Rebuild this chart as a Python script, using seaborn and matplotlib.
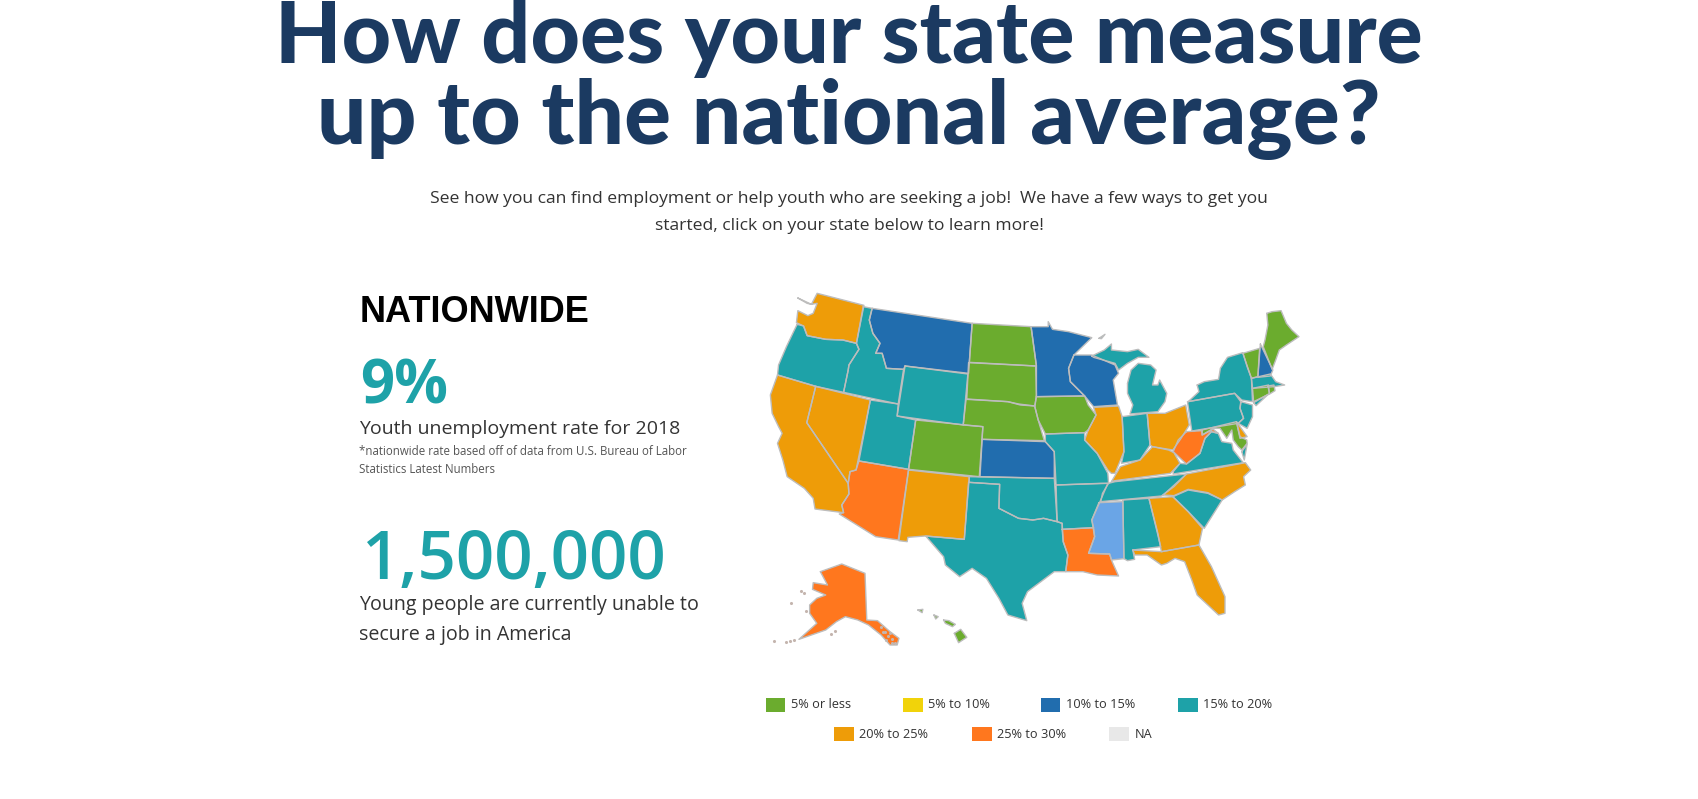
import matplotlib
matplotlib.use("Agg")
import matplotlib.pyplot as plt
import pandas as pd
import seaborn as sns

# bins, as in the legend
bin_labels = ["5% or less", "5% to 10%", "10% to 15%", "15% to 20%",
              "20% to 25%", "25% to 30%", "NA"]
bin_colors = ["#6BAC2E", "#F1D30A", "#216DAE", "#1EA2A8",
              "#EE9C08", "#FF771E", "#E8E8E8"]
ms_color = "#6AA5E6"

# state outlines, in map units
WA = [(162,84),(188,100),(200,103),(216,70),(347,106),(326,220),(288,210),(240,208),(188,197),(178,168),(158,158),(162,122),(190,137),(205,130),(216,100),(200,103)]
OR = [(160,163),(178,168),(188,197),(240,208),(288,210),(326,220),(333,238),(305,285),(303,300),(290,367),(212,349),(105,315),(108,285),(130,230),(150,185)]
CA = [(105,315),(212,349),(187,458),(303,640),(305,672),(285,705),(290,728),(210,717),(205,685),(180,655),(132,620),(120,570),(105,520),(118,490),(108,470),(90,430),(85,375)]
NV = [(212,349),(365,390),(325,600),(308,605),(303,640),(187,458)]
ID = [(345,110),(370,115),(362,150),(372,190),(392,220),(380,250),(398,250),(410,295),(458,298),(443,402),(290,367),(303,300),(305,285),(333,238),(326,220)]
MT = [(370,115),(650,160),(640,310),(462,288),(458,298),(410,295),(398,250),(380,250),(392,220),(372,190),(362,150)]
WY = [(462,288),(638,312),(625,465),(440,438)]
UT = [(365,390),(443,402),(440,438),(492,450),(472,598),(333,573)]
AZ = [(333,573),(472,598),(443,810),(380,800),(278,732),(290,728),(285,705),(305,672),(303,640),(308,605),(325,600)]
CO = [(492,450),(680,470),(670,620),(472,598)]
NM = [(472,600),(642,620),(628,808),(518,798),(470,802),(468,815),(445,812)]
ND = [(650,160),(815,170),(830,288),(642,277)]
SD = [(640,278),(828,288),(830,375),(826,408),(780,402),(750,395),(635,387)]
NE = [(633,388),(750,395),(785,405),(825,408),(835,450),(852,512),(678,508),(680,470),(625,465)]
KS = [(678,508),(855,515),(880,545),(880,625),(672,620)]
OK = [(642,620),(880,625),(888,755),(850,745),(820,750),(780,745),(725,715),(727,643),(642,637)]
TX = [(640,637),(727,643),(725,715),(780,745),(820,750),(850,745),(888,755),(902,760),(905,815),(918,855),(912,905),(880,905),(805,965),(790,1000),(803,1052),(750,1035),(725,985),(690,925),(650,895),(615,920),(575,885),(570,860),(520,798),(628,808)]
MN = [(815,170),(863,170),(863,155),(875,178),(920,185),(985,203),(935,255),(920,295),(925,335),(965,378),(830,380),(830,288)]
IA = [(830,380),(965,378),(975,405),(997,435),(975,480),(965,488),(855,492),(835,450),(825,408)]
MO = [(855,492),(965,488),(965,510),(1000,550),(1030,610),(1032,640),(1010,640),(885,645),(880,545),(855,515)]
AR = [(885,645),(1030,640),(1010,690),(985,750),(990,773),(902,778),(902,760),(888,755)]
LA = [(902,778),(990,773),(993,800),(976,850),(1035,852),(1042,875),(1060,918),(1000,915),(960,905),(912,905),(918,855),(905,815)]
MS = [(1005,698),(1072,695),(1075,866),(1040,870),(1035,852),(976,850),(993,800),(985,750)]
AL = [(1072,690),(1145,685),(1178,830),(1100,840),(1105,868),(1085,872),(1075,866)]
TN = [(1032,640),(1050,635),(1250,612),(1215,650),(1180,678),(1010,695),(1015,670)]
KY = [(1040,635),(1065,590),(1120,570),(1155,530),(1200,540),(1215,548),(1232,580),(1205,610),(1050,632)]
IL = [(975,480),(997,435),(990,412),(1060,408),(1070,440),(1075,545),(1050,610),(1040,610),(1030,600),(1000,550),(965,510)]
IN = [(1070,440),(1140,430),(1148,525),(1120,570),(1068,580),(1075,545)]
OH = [(1140,430),(1190,430),(1248,405),(1258,465),(1235,505),(1212,540),(1155,530),(1148,525)]
MI_LOWER = [(1085,340),(1095,300),(1115,280),(1150,285),(1165,300),(1155,345),(1170,345),(1175,330),(1195,370),(1190,395),(1170,425),(1092,432),(1100,405),(1085,370)]
MI_UPPER = [(985,258),(1020,240),(1040,222),(1040,240),(1085,245),(1115,238),(1145,262),(1115,262),(1085,280),(1060,300),(1050,280),(990,262)]
ISLE_ROYALE = [(1005,205),(1022,193),(1012,206)]
WI = [(935,255),(985,255),(1050,285),(1060,310),(1045,330),(1057,405),(990,410),(965,378),(925,335),(920,295)]
PA = [(1253,395),(1385,370),(1402,395),(1400,415),(1410,445),(1395,460),(1265,483)]
NY = [(1280,345),(1300,335),(1340,328),(1345,295),(1365,262),(1408,248),(1420,290),(1432,325),(1435,395),(1405,390),(1385,370),(1255,395),(1285,365)]
LONG_ISLAND = [(1438,398),(1480,372),(1445,407)]
NJ = [(1403,395),(1435,405),(1435,440),(1420,475),(1395,460),(1410,445),(1400,415)]
VT = [(1408,250),(1455,235),(1450,320),(1432,325)]
NH = [(1457,222),(1492,300),(1485,318),(1450,322)]
ME = [(1475,130),(1490,125),(1515,122),(1530,160),(1545,180),(1565,200),(1530,225),(1510,240),(1500,270),(1490,298),(1465,230),(1470,210),(1478,165)]
MA = [(1432,325),(1485,312),(1500,335),(1525,345),(1495,350),(1435,355)]
CT = [(1435,355),(1480,345),(1482,372),(1438,395)]
RI = [(1478,348),(1495,345),(1498,362),(1483,372)]
DE = [(1390,455),(1420,500),(1400,505)]
MD = [(1294,480),(1390,455),(1400,500),(1419,510),(1420,520),(1405,540),(1395,530),(1381,510),(1377,480),(1363,505),(1344,475),(1325,475),(1294,495)]
WV = [(1250,485),(1293,482),(1294,495),(1325,478),(1339,490),(1320,485),(1302,505),(1288,550),(1250,582),(1213,545),(1227,510)]
VA = [(1213,605),(1232,580),(1250,582),(1288,550),(1302,505),(1320,485),(1339,490),(1349,515),(1377,520),(1381,540),(1409,578),(1213,612)]
VA_SHORE = [(1405,545),(1420,522),(1412,570)]
NC = [(1185,675),(1250,612),(1415,578),(1430,600),(1410,620),(1415,645),(1385,665),(1350,690),(1310,668),(1255,658),(1215,677)]
SC = [(1212,680),(1255,660),(1310,670),(1350,690),(1300,775),(1255,725)]
GA = [(1145,685),(1212,680),(1255,725),(1295,775),(1285,825),(1180,845),(1170,790)]
FL = [(1100,840),(1180,845),(1285,825),(1320,890),(1358,980),(1358,1030),(1340,1035),(1280,975),(1265,930),(1245,875),(1218,865),(1195,880),(1180,885),(1140,855),(1105,855)]
AK = [(225,905),(285,882),(350,910),(355,1050),(385,1052),(420,1085),(445,1105),(440,1125),(420,1125),(395,1095),(360,1065),(330,1050),(295,1040),(270,1055),(240,1080),(165,1108),(215,1060),(195,1030),(195,1005),(215,985),(240,975),(203,958),(205,938),(245,945)]
HI_BIG = [(600,1090),(618,1078),(635,1102),(612,1118)]
HI_MAUI = [(570,1050),(585,1052),(603,1063),(595,1070),(575,1060)]
HI_OAHU = [(543,1035),(555,1040),(548,1047)]
HI_KAUAI = [(498,1020),(512,1018),(510,1028)]

state_shapes = {
    "WA": WA, "OR": OR, "CA": CA, "NV": NV, "ID": ID, "MT": MT, "WY": WY, "UT": UT,
    "AZ": AZ, "CO": CO, "NM": NM, "ND": ND, "SD": SD, "NE": NE, "KS": KS, "OK": OK,
    "TX": TX, "MN": MN, "IA": IA, "MO": MO, "AR": AR, "LA": LA, "MS": MS, "AL": AL,
    "TN": TN, "KY": KY, "IL": IL, "IN": IN, "OH": OH, "MI_LOWER": MI_LOWER,
    "MI_UPPER": MI_UPPER, "ISLE_ROYALE": ISLE_ROYALE, "WI": WI, "PA": PA, "NY": NY,
    "LONG_ISLAND": LONG_ISLAND, "NJ": NJ, "VT": VT, "NH": NH, "ME": ME, "MA": MA,
    "CT": CT, "RI": RI, "VA": VA, "VA_SHORE": VA_SHORE, "MD": MD, "DE": DE, "WV": WV,
    "NC": NC, "SC": SC, "GA": GA, "FL": FL, "AK": AK, "HI_BIG": HI_BIG,
    "HI_MAUI": HI_MAUI, "HI_OAHU": HI_OAHU, "HI_KAUAI": HI_KAUAI,
}

green_states = ["CO", "ND", "SD", "NE", "IA", "VT", "ME", "CT", "RI", "MD",
                "HI_BIG", "HI_MAUI", "HI_OAHU", "HI_KAUAI"]
blue_states = ["MT", "KS", "MN", "WI", "NH"]
orange_states = ["WA", "CA", "NV", "NM", "IL", "OH", "KY", "NC", "GA", "FL", "DE"]
dark_orange_states = ["AZ", "LA", "WV", "AK"]
light_blue_states = ["MS"]

# small Alaskan islands, mostly border colour at this size
island_x = [95, 130, 140, 150, 172, 180, 185, 143, 255, 265, 395, 405, 415, 425, 435, 410, 425, 420, 400]
island_y = [1113, 1115, 1112, 1110, 962, 970, 1022, 998, 1092, 1082, 1070, 1085, 1098, 1108, 1118, 1110, 1120, 1090, 1085]


def state_color(name):
    if name in green_states:
        return bin_colors[0]
    if name in blue_states:
        return bin_colors[2]
    if name in orange_states:
        return bin_colors[4]
    if name in dark_orange_states:
        return bin_colors[5]
    if name in light_blue_states:
        return ms_color
    return bin_colors[3]


sns.set_theme(style="white")
body_font = ["Open Sans", "DejaVu Sans"]

fig = plt.figure(figsize=(16.98, 7.99), dpi=100, facecolor="w")

# page axes, in pixels
page = fig.add_axes([0, 0, 1, 1])
page.set_xlim(0, 1698)
page.set_ylim(799, 0)
page.axis("off")

title_color = "#1B3A61"
teal = "#1EA2A8"
page.text(849, 63, "How does your state measure", ha="center", va="baseline", fontsize=61.9,
          color=title_color, family="Lato", weight="black")
page.text(849, 144, "up to the national average?", ha="center", va="baseline", fontsize=63,
          color=title_color, family="Lato", weight="black")

for line, y in zip(["See how you can find employment or help youth who are seeking a job!  We have a few ways to get you",
                    "started, click on your state below to learn more!"], [203, 230]):
    page.text(849, y, line, ha="center", va="baseline", fontsize=12.6, color="#333333", family=body_font)

page.text(360, 322, "NATIONWIDE", fontsize=26, color="black", family="Liberation Sans", weight="bold", va="baseline")
page.text(360, 403, "9%", fontsize=43, color=teal, family=body_font, weight="bold", va="baseline")
page.text(359, 434, "Youth unemployment rate for 2018", fontsize=14, color="#333333", family=body_font, va="baseline")
page.text(359, 455, "*nationwide rate based off of data from U.S. Bureau of Labor", fontsize=8.3, color="#555555", family=body_font, va="baseline")
page.text(359, 473, "Statistics Latest Numbers", fontsize=8.3, color="#555555", family=body_font, va="baseline")
page.text(362, 579, "1,500,000", fontsize=48.5, color=teal, family=body_font, weight="semibold", va="baseline")
page.text(359, 610, "Young people are currently unable to", fontsize=14.1, color="#333333", family=body_font, va="baseline")
page.text(359, 640, "secure a job in America", fontsize=14.1, color="#333333", family=body_font, va="baseline")

# legend swatches
legend_df = pd.DataFrame({
    "label": bin_labels,
    "x": [775.5, 913, 1050.5, 1188, 844, 982, 1119],
    "y": [705, 705, 705, 705, 734, 734, 734],
})
swatch = [(-1, -0.72), (1, -0.72), (1, 0.72), (-1, 0.72), (-1, -0.72)]
sns.scatterplot(data=legend_df, x="x", y="y", hue="label", palette=dict(zip(bin_labels, bin_colors)),
                marker=swatch, s=197, linewidth=0, legend=False, ax=page)
for _, row in legend_df.iterrows():
    page.text(row["x"] + 15.5, row["y"], row["label"], ha="left", va="center", fontsize=9.2,
              color="#333333", family=body_font)
page.set_xlim(0, 1698)
page.set_ylim(799, 0)
page.axis("off")

# map axes, 2.8 map units per pixel across and 3 down
ax = fig.add_axes([740 / 1698, 1 - 670 / 799, 560 / 1698, 400 / 799])
ax.patch.set_alpha(0)
rows = []
for name, shape in state_shapes.items():
    xs = [p[0] for p in shape]
    ys = [p[1] for p in shape]
    ax.fill(xs, ys, color=state_color(name), linewidth=0)
    for x, y in shape + shape[:1]:
        rows.append({"state": name, "x": x, "y": y})
border_df = pd.DataFrame(rows)
sns.lineplot(data=border_df, x="x", y="y", units="state", estimator=None, sort=False,
             color="#BDBDBD", linewidth=1.0, ax=ax, legend=False)
sns.scatterplot(x=island_x, y=island_y, color="#C4B5AE", s=5, linewidth=0, ax=ax, legend=False)
ax.set_xlim(0, 1568)
ax.set_ylim(1200, 0)
ax.axis("off")

fig.savefig("out.png", dpi=100, facecolor="w")
